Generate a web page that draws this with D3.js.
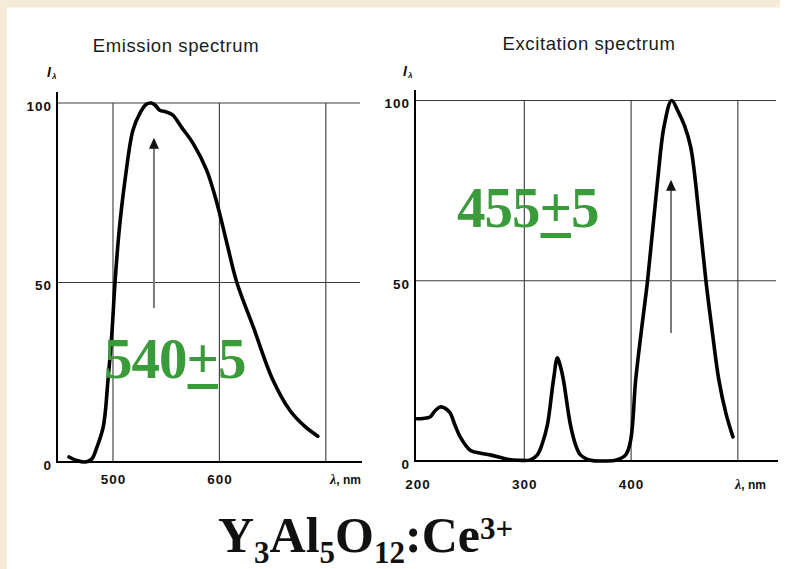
<!DOCTYPE html>
<html>
<head>
<meta charset="utf-8">
<script src="https://cdn.jsdelivr.net/npm/d3@7"></script>
<style>
  html, body { margin: 0; padding: 0; background: #fff; }
  svg { display: block; }
</style>
</head>
<body>
<svg id="chart" width="792" height="569"></svg>
<script>
// ---------- DATA ----------
const emissionTitle = "Emission spectrum";
const excitationTitle = "Excitation spectrum";
// emission spectrum: [wavelength nm, relative intensity]
const emissionWavelength = [458.7, 466, 474, 480, 485, 491, 495.3, 499, 501.9, 506, 511.3, 518.8, 525.4, 531, 536, 540, 544, 550, 556, 565, 575, 588, 597.7, 607, 616.4, 632, 649.3, 666, 680, 692.5];
const emissionIntensity  = [1.4,   0.4, 0,   0.8, 4.2, 10,  22.8,  36,  50,    65,  78.5,  92.5,  97.2,  99.6, 100, 99.3, 98, 97.5, 96.7, 93, 88.9, 81.3, 72.1, 61, 50, 37.5, 23.5, 14.5, 10, 7.2];
// excitation spectrum
const excitationWavelength = [199.5, 205, 211.7, 216, 221.1, 226, 230.5, 235, 239.9, 249.3, 258, 268, 284, 295, 305.6, 312.2, 317, 321.6, 327.3, 331, 334, 336.6, 343.2, 348, 352.6, 362, 375, 385.5, 394.9, 399.6, 404.3, 410, 415.5, 424.9, 431, 438, 444, 450, 455.9, 463.4, 470, 476, 482.2, 489, 495.4];
const excitationIntensity  = [11.7, 11.8, 12.2, 13.8, 15, 14.6, 13.3, 10, 6.7, 3, 2.2, 1.7, 0.5, 0.2, 0.3, 1.7, 5, 10, 22.5, 28.6, 26, 22.5, 10, 4.5, 1.7, 0.2, 0, 0.2, 1.7, 5.8, 22.5, 37, 50.2, 78, 93, 100, 97, 93, 87, 68.8, 50.2, 36, 22.5, 13, 6.7];
// ticks
const yTicks = [0, 50, 100];
const yGrid = [50, 100];
const emissionXTicks = [500, 600];
const emissionXGrid = [500, 600, 700];
const excitationXTicks = [200, 300, 400];
const excitationXGrid = [300, 400, 500];
const axisUnit = "λ, nm";
// annotations: [wavelength, from intensity, to intensity]
const emissionArrow = [538.5, 42.9, 90.3];
const excitationArrow = [437.4, 35.5, 78];
const emissionLabel = ["540", "+", "5"];
const excitationLabel = ["455", "+", "5"];

// ---------- DRAW ----------
const svg = d3.select("#chart");
// background frame
svg.append("rect").attr("x", 0).attr("y", 0).attr("width", 792).attr("height", 569).attr("fill", "#fff");
svg.append("rect").attr("x", 0).attr("y", 0).attr("width", 780).attr("height", 7.5).attr("fill", "#f4ebd8");
svg.append("rect").attr("x", 0).attr("y", 0).attr("width", 7).attr("height", 569).attr("fill", "#f4ebd8");

const sans = "'Liberation Sans', Arial, sans-serif";
const serif = "'Liberation Serif', 'Times New Roman', serif";
const green = "#3a9b3a";

function panel(opt) {
  const g = svg.append("g");
  const x = d3.scaleLinear().domain(opt.xDomain).range(opt.xRange);
  const y = d3.scaleLinear().domain([0, 100]).range(opt.yRange);
  const x0 = opt.xRange[0], x1 = opt.xRange[1];

  // title
  g.append("text").attr("x", opt.titleX).attr("y", opt.titleY)
    .attr("text-anchor", "middle").attr("font-family", sans).attr("font-size", 18.5)
    .attr("letter-spacing", 0.6).attr("fill", "#1a1a1a").text(opt.title);
  // I lambda
  const il = g.append("text").attr("x", opt.ilX).attr("y", opt.ilY)
    .attr("font-family", sans).attr("font-weight", "bold").attr("font-style", "italic")
    .attr("font-size", 14).attr("fill", "#111");
  il.append("tspan").text("I");
  il.append("tspan").attr("font-size", 8).attr("dy", 2).attr("dx", 1).text("λ");

  // horizontal grid
  g.selectAll(".hg").data(yGrid).join("line")
    .attr("x1", x0).attr("x2", opt.gridEnd)
    .attr("y1", d => y(d)).attr("y2", d => y(d))
    .attr("stroke", "#3a3a3a").attr("stroke-width", 1.1);
  // vertical grid
  g.selectAll(".vg").data(opt.xGrid).join("line")
    .attr("x1", d => x(d)).attr("x2", d => x(d))
    .attr("y1", y(0)).attr("y2", y(100))
    .attr("stroke", "#3a3a3a").attr("stroke-width", 1.1);

  // axes
  const yAxis = d3.axisLeft(y).tickValues(yTicks).tickSize(0).tickPadding(5).tickFormat(d3.format("d"));
  const ya = g.append("g").attr("transform", `translate(${x0},0)`).call(yAxis);
  ya.select(".domain").remove();
  ya.selectAll("text").attr("font-family", sans).attr("font-weight", "bold")
    .attr("font-size", 13.5).attr("letter-spacing", 1).attr("dy", "0.55em").attr("fill", "#111");
  g.append("line").attr("x1", x0).attr("x2", x0).attr("y1", opt.yAxisTop).attr("y2", y(0) + 1)
    .attr("stroke", "#000").attr("stroke-width", 2);

  const xAxis = d3.axisBottom(x).tickValues(opt.xTicks).tickSize(0).tickPadding(opt.xLabelPad).tickFormat(d3.format("d"));
  const xa = g.append("g").attr("transform", `translate(0,${y(0)})`).call(xAxis);
  xa.select(".domain").remove();
  xa.selectAll("text").attr("font-family", sans).attr("font-weight", "bold")
    .attr("font-size", 13.5).attr("letter-spacing", 1).attr("fill", "#111");
  g.append("line").attr("x1", x0).attr("x2", x1).attr("y1", y(0)).attr("y2", y(0))
    .attr("stroke", "#000").attr("stroke-width", 2);
  const unit = g.append("text").attr("x", opt.unitX).attr("y", y(0) + opt.xLabelPad + 10)
    .attr("text-anchor", "end").attr("font-family", sans).attr("font-weight", "bold")
    .attr("font-size", 12).attr("fill", "#111");
  unit.append("tspan").attr("font-style", "italic").attr("font-family", serif).attr("font-size", 14).text(axisUnit.slice(0, 1));
  unit.append("tspan").text(axisUnit.slice(1));

  // curve
  const pts = opt.wl.map((w, i) => [w, opt.int[i]]);
  const line = d3.line().x(d => x(d[0])).y(d => y(d[1])).curve(d3.curveCatmullRom.alpha(0.5));
  g.append("path").attr("d", line(pts)).attr("fill", "none")
    .attr("stroke", "#000").attr("stroke-width", 3.6).attr("stroke-linejoin", "round").attr("stroke-linecap", "round");

  // arrow
  const [aw, a0, a1] = opt.arrow;
  const ax = x(aw), ay0 = y(a0), ay1 = y(a1);
  g.append("line").attr("x1", ax).attr("x2", ax).attr("y1", ay0).attr("y2", ay1 + 8)
    .attr("stroke", "#7a7a7a").attr("stroke-width", 2);
  g.append("path").attr("d", `M${ax},${ay1} L${ax - 5},${ay1 + 11} L${ax + 5},${ay1 + 11} Z`).attr("fill", "#111");

  // green label
  const t = g.append("text").attr("x", opt.labelX).attr("y", opt.labelY)
    .attr("font-family", serif).attr("font-weight", "bold").attr("font-size", 57)
    .attr("fill", green).attr("letter-spacing", -1);
  t.append("tspan").text(opt.label[0]);
  t.append("tspan").text(opt.label[1]);
  t.append("tspan").text(opt.label[2]);
  const node = t.node();
  const n0 = opt.label[0].length;
  const ps = node.getStartPositionOfChar(n0).x;
  const pe = node.getEndPositionOfChar(n0).x;
  g.append("rect").attr("x", ps + 1).attr("y", opt.labelY + 6).attr("width", pe - ps - 1).attr("height", 5).attr("fill", green);
}

panel({
  title: emissionTitle, titleX: 176, titleY: 52, ilX: 47, ilY: 77,
  xDomain: [447.4, 734], xRange: [57, 362], yRange: [462, 103], gridEnd: 360, yAxisTop: 92,
  xTicks: emissionXTicks, xGrid: emissionXGrid, xLabelPad: 12, unitX: 361,
  wl: emissionWavelength, int: emissionIntensity, arrow: emissionArrow,
  label: emissionLabel, labelX: 104, labelY: 378
});
panel({
  title: excitationTitle, titleX: 589, titleY: 50, ilX: 403, ilY: 76,
  xDomain: [197.6, 537.6], xRange: [415, 778], yRange: [461, 100.5], gridEnd: 776, yAxisTop: 90,
  xTicks: excitationXTicks, xGrid: excitationXGrid, xLabelPad: 18, unitX: 766,
  wl: excitationWavelength, int: excitationIntensity, arrow: excitationArrow,
  label: excitationLabel, labelX: 457, labelY: 227
});

// formula
const formulaParts = [["Y", 0], ["3", 1], ["Al", 0], ["5", 1], ["O", 0], ["12", 1], [":Ce", 0], ["3+", 2]];
const f = svg.append("text").attr("x", 218).attr("y", 552)
  .attr("font-family", serif).attr("font-weight", "bold").attr("font-size", 50).attr("fill", "#111");
let prev = 0;
const shift = [0, 11, -13];
formulaParts.forEach(([s, k]) => {
  f.append("tspan").attr("dy", shift[k] - shift[prev]).attr("font-size", k ? 31 : 50).text(s);
  prev = k;
});
</script>
</body>
</html>
